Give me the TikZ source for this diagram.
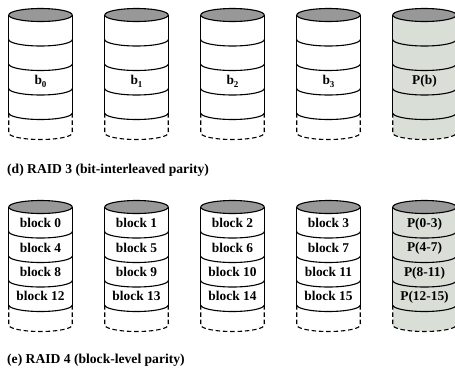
\documentclass[tikz,border=0pt]{standalone}
\usepackage{fontspec}
\setmainfont{Liberation Serif}
\definecolor{topgray}{RGB}{152,152,152}
\definecolor{paritygray}{RGB}{217,222,215}
\newcommand\rx{31.75}
\newcommand\ry{6.5}
\newcommand\drawdisk[3]{%
  \begin{scope}[shift={(#1,-#2)}]
    \fill[#3] (-\rx,0) -- (-\rx,-118) arc[start angle=180,end angle=360,x radius=\rx pt,y radius=\ry pt] -- (\rx,0) -- cycle;
    \draw[diskline] (-\rx,0) -- (-\rx,-98) (\rx,0) -- (\rx,-98);
    \draw[diskline,dashdisk] (-\rx,-98) -- (-\rx,-118) arc[start angle=180,end angle=360,x radius=\rx pt,y radius=\ry pt] -- (\rx,-98);
    \foreach \yy in {24.5,49,73.5,98}
      \draw[diskline] (-\rx,-\yy) arc[start angle=180,end angle=360,x radius=\rx pt,y radius=\ry pt];
    \draw[diskline,fill=topgray] (0,0) ellipse[x radius=\rx pt,y radius=\ry pt];
  \end{scope}}
\newcommand\lowsub[1]{\raisebox{-3pt}{\fontsize{9}{9}\selectfont #1}}
\begin{document}
\begin{tikzpicture}[x=1pt,y=1pt,
  diskline/.style={line width=1.1pt,black},
  dashdisk/.style={dash pattern=on 4.5pt off 2.8pt},
  lbl/.style={font=\fontsize{13.4}{15}\selectfont\bfseries,anchor=base,inner sep=0pt},
  captext/.style={font=\fontsize{13.6}{15}\selectfont\bfseries,anchor=base west,inner sep=0pt}]
\fill[white] (0,0) rectangle (455,-368);
\useasboundingbox (0,0) rectangle (455,-368);
% RAID 3
\drawdisk{40.5}{15}{white}
\drawdisk{136.5}{15}{white}
\drawdisk{232.5}{15}{white}
\drawdisk{328.5}{15}{white}
\drawdisk{424.5}{15}{paritygray}
\node[lbl] (b0) at (40.5,-84) {b\lowsub{0}};
\node[lbl] (b1) at (136.5,-84) {b\lowsub{1}};
\node[lbl] (b2) at (232.5,-84) {b\lowsub{2}};
\node[lbl] (b3) at (328.5,-84) {b\lowsub{3}};
\node[lbl] (pb) at (424.5,-84) {P(b)};
\node[captext] (capd) at (7,-173) {(d) RAID 3 (bit-interleaved parity)};
% RAID 4
\drawdisk{40.5}{207}{white}
\drawdisk{136.5}{207}{white}
\drawdisk{232.5}{207}{white}
\drawdisk{328.5}{207}{white}
\drawdisk{424.5}{207}{paritygray}
\foreach \c/\x in {0/40.5,1/136.5,2/232.5,3/328.5}{
  \pgfmathtruncatemacro\ba{\c}
  \pgfmathtruncatemacro\bb{\c+4}
  \pgfmathtruncatemacro\bc{\c+8}
  \pgfmathtruncatemacro\bd{\c+12}
  \node[lbl] (blk\ba) at (\x,-227.5) {block \ba};
  \node[lbl] (blk\bb) at (\x,-252) {block \bb};
  \node[lbl] (blk\bc) at (\x,-276.5) {block \bc};
  \node[lbl] (blk\bd) at (\x,-300.5) {block \bd};
}
\node[lbl] (p0) at (424.5,-227) {P(0-3)};
\node[lbl] (p1) at (424.5,-251.5) {P(4-7)};
\node[lbl] (p2) at (424.5,-276) {P(8-11)};
\node[lbl] (p3) at (424.5,-300) {P(12-15)};
\node[captext] (cape) at (7,-363) {(e) RAID 4 (block-level parity)};
\end{tikzpicture}
\end{document}
